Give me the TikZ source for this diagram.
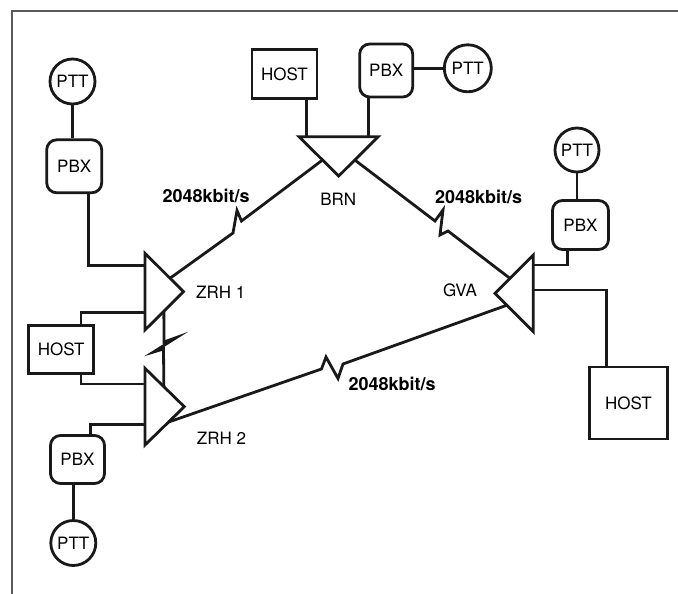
\documentclass[tikz,border=0pt]{standalone}
\usepackage{fontspec}
\setmainfont{TeX Gyre Heros}
\usetikzlibrary{calc}
\begin{document}
\begin{tikzpicture}[x=1pt,y=-1pt,
  wire/.style={line width=2.8pt, line join=miter, color=black!90},
  frame/.style={line width=1.2pt, color=black!65},
  box/.style={draw=black!90, line width=2.8pt, inner sep=0pt, font=\fontsize{17}{17}\selectfont, text height=12.2pt, text depth=0pt},
  hostbox/.style={box},
  pbxbox/.style={box, rounded corners=10pt},
  pttbox/.style={box, circle},
  lbl/.style={inner sep=0pt, font=\fontsize{17}{17}\selectfont, text height=12.2pt, text depth=0pt},
  rate/.style={inner sep=0pt, font=\fontsize{18}{18}\selectfont\bfseries, text height=12.9pt, text depth=0pt}]
\useasboundingbox (0,0) rectangle (678,594);
\fill[white] (0,0) rectangle (678,594);
\draw[frame] (12,594) -- (12,11) -- (678,11);

% end devices
\node[pttbox, minimum size=45pt] (ptt1) at (72.5,81.5) {PTT};
\node[pbxbox, minimum width=55pt, minimum height=53pt] (pbx1) at (74.2,166.3) {PBX};
\node[hostbox, minimum width=65pt, minimum height=48pt] (host1) at (61.2,349.5) {HOST};
\node[pbxbox, minimum width=54pt, minimum height=48pt] (pbx3) at (77.5,459.5) {PBX};
\node[pttbox, minimum size=45pt] (ptt3) at (73.3,543) {PTT};
\node[hostbox, minimum width=65pt, minimum height=49pt] (host2) at (284.5,74) {HOST};
\node[pbxbox, minimum width=53pt, minimum height=53pt] (pbx2) at (386.2,70.5) {PBX};
\node[pttbox, minimum size=47pt] (ptt2) at (467.8,68.3) {PTT};
\node[pttbox, minimum size=44pt] (ptt4) at (577,150) {PTT};
\node[pbxbox, minimum width=56pt, minimum height=49pt] (pbx4) at (580.5,225) {PBX};
\node[hostbox, minimum width=78pt, minimum height=72pt] (host3) at (628.5,403) {HOST};

% switch triangles
\coordinate (z1a) at (145,253.3); \coordinate (z1b) at (145,330); \coordinate (z1c) at (183.5,291.7);
\coordinate (z2a) at (145,368.3); \coordinate (z2b) at (145,445); \coordinate (z2c) at (184.3,406.7);
\coordinate (ba) at (299,136.7); \coordinate (bb) at (378.3,136.7); \coordinate (bc) at (338.7,176);
\coordinate (ga) at (533.3,255); \coordinate (gb) at (533.3,331.7); \coordinate (gc) at (495,293.3);
\draw[wire] (z1a) -- (z1c) -- (z1b) -- cycle;
\draw[wire] (z2a) -- (z2c) -- (z2b) -- cycle;
\draw[wire] (ba) -- (bb) -- (bc) -- cycle;
\draw[wire] (ga) -- (gc) -- (gb) -- cycle;

% labels
\node[lbl, anchor=west] (lz1) at (196,292.5) {ZRH 1};
\node[lbl, anchor=west] (lz2) at (196.7,438) {ZRH 2};
\node[lbl] (lbrn) at (338.3,199) {BRN};
\node[lbl] (lgva) at (460,290) {GVA};
\node[rate, anchor=west] (r1) at (162.3,195.7) {2048kbit/s};
\node[rate, anchor=west] (r2) at (435,197) {2048kbit/s};
\node[rate, anchor=west] (r3) at (348.3,384) {2048kbit/s};

% local connections
\draw[wire] (ptt1.south) -- (ptt1.south |- pbx1.north);
\coordinate (j1) at (88.3,265.7);
\draw[wire] (pbx1.south -| j1) -- (j1) -- (j1 -| z1a);
\coordinate (j2) at (81,312.3);
\draw[wire] (host1.north -| j2) -- (j2) -- (j2 -| z1a);
\coordinate (j3) at (81,384);
\draw[wire] (host1.south -| j3) -- (j3) -- (j3 -| z2a);
\coordinate (j4) at (90.7,424.3);
\draw[wire] (pbx3.north -| j4) -- (j4) -- (j4 -| z2a);
\draw[wire] (pbx3.south -| ptt3.north) -- (ptt3.north);
\coordinate (j5) at (306.7,136.7);
\draw[wire] (host2.south -| j5) -- (j5);
\coordinate (j6) at (368.3,136.7);
\draw[wire] (pbx2.south -| j6) -- (j6);
\draw[wire] (pbx2.east |- ptt2.west) -- (ptt2.west);
\draw[wire] (ptt4.south) -- (ptt4.south |- pbx4.north);
\coordinate (j7) at (567.7,265);
\draw[wire] (pbx4.south -| j7) -- (j7) -- (j7 -| ga);
\coordinate (j8) at (606.7,290);
\draw[wire] (j8 -| ga) -- (j8) -- (j8 |- host3.north);

% trunk lines with lightning marks
\draw[wire] ($(z1a)!0.65!(z1c)$) -- (233,233) -- (237,210.5) -- (241.5,221) -- ($(ba)!0.593!(bc)$);
\draw[wire] ($(bb)!0.593!(bc)$) -- (435,221) -- (443,210) -- (440,235) -- (448,231) -- ($(ga)!0.61!(gc)$);
\draw[wire] ($(z2b)!0.6!(z2c)$) -- (321.5,369) -- (326,357) -- (338,378.5) -- (343,364) -- ($(gb)!0.69!(gc)$);
\draw[wire] ($(z1b)!0.49!(z1c)$) -- (164,342) -- (176.5,337.5) -- (153.5,352) -- (163.5,349) -- ($(z2a)!0.48!(z2c)$);
\end{tikzpicture}
\end{document}
